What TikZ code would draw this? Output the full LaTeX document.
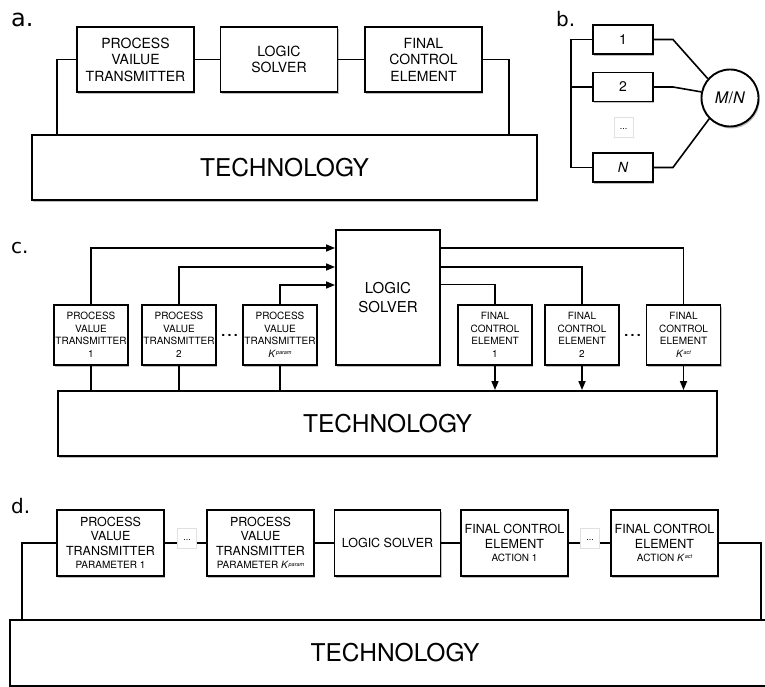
\documentclass[tikz,border=0pt]{standalone}
\usepackage{fontspec}
\setmainfont{TeX Gyre Heros}
\newfontfamily\labelfont{DejaVu Sans}
\usetikzlibrary{positioning,calc,arrows.meta,shadows}
\newcommand{\Kpar}[1]{\textit{K}\raisebox{0.55ex}{\fontsize{5.5}{5.5}\selectfont\itshape #1}}
\tikzset{
    block/.style={draw=black, line width=1.9pt, fill=white, align=center, inner sep=0pt,
        drop shadow={shadow xshift=1.2pt, shadow yshift=-2pt, opacity=0.25, fill=black}},
    link/.style={draw=black, line width=1.6pt},
    dotsbox/.style={draw=black!12, line width=0.6pt, fill=white, minimum width=19pt, minimum height=20pt, inner sep=0pt}
}

\begin{document}
\begin{tikzpicture}[x=1pt, y=-1pt,
        % Cỡ chữ từng phần
        blocka/.style={block, minimum width=117pt, minimum height=65pt, font=\fontsize{14}{16.5}\selectfont},
        blockb/.style={block, minimum width=60pt, minimum height=29pt, font=\fontsize{14}{16}\selectfont},
        blockc/.style={block, minimum width=74pt, minimum height=60pt, font=\fontsize{10}{12.5}\selectfont},
        blockd/.style={block, minimum width=107pt, minimum height=66pt, font=\fontsize{12.5}{14.5}\selectfont},
        tech/.style={block, font=\fontsize{24.5}{26}\selectfont},
        panel/.style={anchor=base west, inner sep=0pt, font=\labelfont\fontsize{20}{20}\selectfont},
        % Mũi tên
        arr/.style={link, -{Triangle[length=9pt, width=7pt]}}
    ]
        \useasboundingbox (0,0) rectangle (765,687);

        % --- a. ---
        \node[panel, font=\labelfont\fontsize{24}{24}\selectfont] (pa) at (11,27) {a.};
        \node[blocka] (pva) at (135.5,59.5) {PROCESS\\VAILUE\\TRANSMITTER};
        \node[blocka] (lsa) at (279,59.5) {LOGIC\\SOLVER};
        \node[blocka] (fca) at (423.5,59.5) {FINAL\\CONTROL\\ELEMENT};
        \node[tech, minimum width=505pt, minimum height=65pt] (techa) at (284.5,167.5) {TECHNOLOGY};

        \draw[link] (pva.east) -- (lsa.west);
        \draw[link] (lsa.east) -- (fca.west);
        \draw[link] (pva.west) -| ([xshift=26pt]techa.north west);
        \draw[link] (fca.east) -| ([xshift=-29pt]techa.north east);

        % --- b. ---
        \node[panel] (pb) at (556,27) {b.};
        \node[blockb] (bb1) at (623,39.5) {1};
        \node[blockb] (bb2) at (623,87) {2};
        \node[dotsbox, font=\fontsize{9}{9}\selectfont] (bbd) at (623.5,127.5) {\raisebox{-1ex}{...}};
        \node[blockb] (bbn) at (623,167.5) {\textit{N}};
        \node[block, circle, minimum size=57pt, font=\fontsize{16}{16}\selectfont] (mn) at (730,98) {\textit{M}/\textit{N}};

        \draw[link] (bb1.west) -- ++(-21,0) |- (bbn.west);
        \draw[link] (bb2.west) -- ++(-21,0);
        \draw[link] (bb1.east) -- ++(19,0) -- (mn.139);
        \draw[link] (bb2.east) -- ++(19,0) -- (mn.168);
        \draw[link] (bbn.east) -- ++(19,0) -- (mn.225);

        % --- c. ---
        \node[panel] (pc) at (11,253) {c.};
        \node[block, minimum width=104pt, minimum height=135pt, font=\fontsize{15}{19}\selectfont] (lsc) at (388,297.5) {LOGIC\\SOLVER};
        \node[blockc] (pv1) at (91,335) {PROCESS\\VALUE\\TRANSMITTER\\1};
        \node[blockc] (pv2) at (179,335) {PROCESS\\VALUE\\TRANSMITTER\\2};
        \node[blockc] (pvk) at (280,335) {PROCESS\\VALUE\\TRANSMITTER\\\Kpar{param}};
        \node[blockc] (fc1) at (495,335) {FINAL\\CONTROL\\ELEMENT\\1};
        \node[blockc] (fc2) at (582,335) {FINAL\\CONTROL\\ELEMENT\\2};
        \node[blockc] (fck) at (683.5,335) {FINAL\\CONTROL\\ELEMENT\\\Kpar{act}};
        \node[font=\fontsize{14}{14}\selectfont\bfseries] (dc1) at (229.5,335) {.\,.\,.};
        \node[font=\fontsize{14}{14}\selectfont\bfseries] (dc2) at (632.5,335) {.\,.\,.};
        \node[tech, minimum width=659pt, minimum height=65pt] (techc) at (387.5,423.5) {TECHNOLOGY};

        \draw[arr] (pv1.north) |- ([yshift=49.5pt]lsc.west);
        \draw[arr] (pv2.north) |- ([yshift=30.5pt]lsc.west);
        \draw[arr] (pvk.north) |- ([yshift=12.5pt]lsc.west);
        \draw[link] ([yshift=49.5pt]lsc.east) -| (fck.north);
        \draw[link] ([yshift=30.5pt]lsc.east) -| (fc2.north);
        \draw[link] ([yshift=13pt]lsc.east) -| (fc1.north);
        \foreach \n in {pv1,pv2,pvk}
            \draw[link] (\n.south) -- (\n.south |- techc.north);
        \foreach \n in {fc1,fc2,fck}
            \draw[arr] (\n.south) -- (\n.south |- techc.north);

        % --- d. ---
        \node[panel] (pd) at (11,513) {d.};
        \node[blockd] (pd1) at (110.5,543) {PROCESS\\VALUE\\TRANSMITTER\\[-1pt]{\fontsize{10}{12}\selectfont PARAMETER 1}};
        \node[dotsbox, font=\fontsize{9}{9}\selectfont] (dd1) at (187,538.5) {\raisebox{-0.9ex}{...}};
        \node[blockd] (pdk) at (260.5,543) {PROCESS\\VALUE\\TRANSMITTER\\[-1pt]{\fontsize{10}{12}\selectfont PARAMETER \Kpar{param}}};
        \node[blockd, minimum width=106pt] (lsd) at (387.5,543) {LOGIC SOLVER};
        \node[blockd] (fd1) at (514.5,543) {FINAL CONTROL\\ELEMENT\\[-1pt]{\fontsize{10}{12}\selectfont ACTION 1}};
        \node[dotsbox, font=\fontsize{9}{9}\selectfont] (dd2) at (590,538.5) {\raisebox{-0.9ex}{...}};
        \node[blockd] (fdk) at (664.5,543) {FINAL CONTROL\\ELEMENT\\[-1pt]{\fontsize{10}{12}\selectfont ACTION \Kpar{act}}};
        \node[tech, minimum width=770pt, minimum height=66pt] (techd) at (395,653) {TECHNOLOGY};

        \draw[link] (pd1.east) -- (pd1.east -| dd1.west);
        \draw[link] (pdk.west -| dd1.east) -- (pdk.west);
        \draw[link] (pdk.east) -- (lsd.west);
        \draw[link] (lsd.east) -- (fd1.west);
        \draw[link] (fd1.east) -- (fd1.east -| dd2.west);
        \draw[link] (fdk.west -| dd2.east) -- (fdk.west);
        \draw[link] (pd1.west) -| ([xshift=13pt]techd.north west);
        \draw[link] (fdk.east) -| ([xshift=-20pt]techd.north east);

    \end{tikzpicture}
\end{document}
